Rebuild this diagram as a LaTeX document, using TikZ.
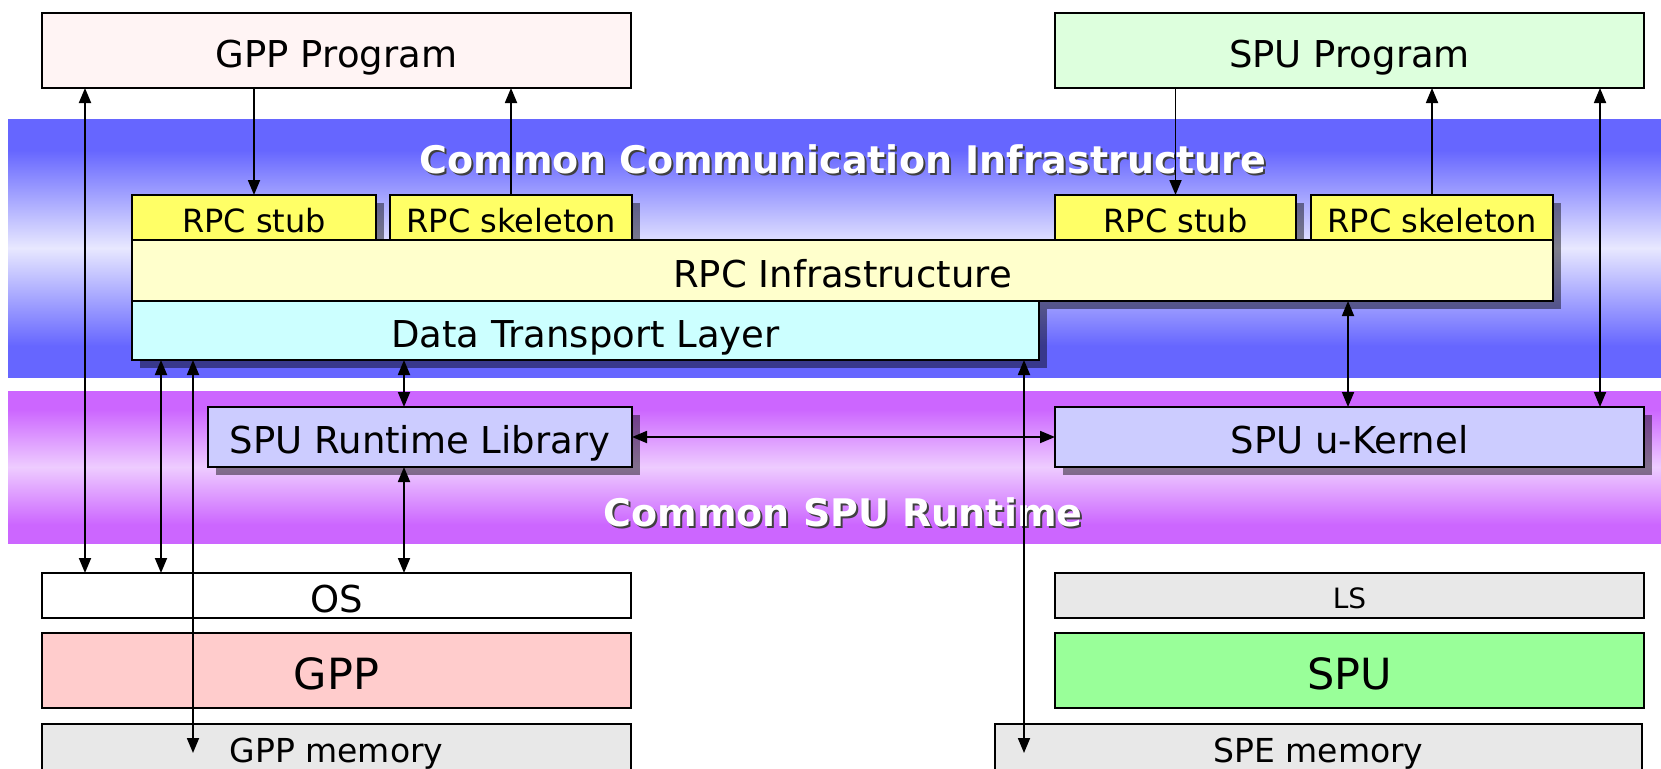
\documentclass[tikz,border=0pt]{standalone}
\usepackage{fontspec}
\setmainfont{DejaVu Sans}
\usetikzlibrary{arrows.meta,shadows}

\definecolor{bandblue}{HTML}{6666FF}
\definecolor{bandbluelight}{HTML}{E8E8FF}
\definecolor{bandpurple}{HTML}{CC66FF}
\definecolor{bandpurplelight}{HTML}{EECCFF}
\definecolor{gppprogfill}{HTML}{FFF4F4}
\definecolor{spuprogfill}{HTML}{DDFFDD}
\definecolor{stubfill}{HTML}{FFFF66}
\definecolor{infrafill}{HTML}{FFFFCC}
\definecolor{dtlfill}{HTML}{CCFFFF}
\definecolor{runtimefill}{HTML}{CCCCFF}
\definecolor{gppfill}{HTML}{FFCCCC}
\definecolor{spufill}{HTML}{99FF99}
\definecolor{memfill}{HTML}{E8E8E8}

% vertical band shadings: dark at both edges, light in the middle
\pgfdeclareverticalshading{blueband}{100bp}{color(0bp)=(bandblue); color(25bp)=(bandblue);
  color(31bp)=(bandblue); color(50bp)=(bandbluelight); color(69bp)=(bandblue);
  color(75bp)=(bandblue); color(100bp)=(bandblue)}
\pgfdeclareverticalshading{purpleband}{100bp}{color(0bp)=(bandpurple); color(25bp)=(bandpurple);
  color(31bp)=(bandpurple); color(50bp)=(bandpurplelight); color(69bp)=(bandpurple);
  color(75bp)=(bandpurple); color(100bp)=(bandpurple)}

\tikzset{
  box/.style={draw=black, line width=2pt, inner sep=0pt, outer sep=0pt, anchor=north west,
    text height=33pt, text depth=0pt, font=\fontsize{37}{44}\selectfont},
  shbox/.style={box, drop shadow={shadow xshift=8pt, shadow yshift=-8pt, fill=black, opacity=0.45}},
  smalltext/.style={font=\fontsize{32}{38}\selectfont, text height=29.4pt},
  bigtext/.style={font=\fontsize{43}{50}\selectfont, text height=37.4pt},
  memtext/.style={font=\fontsize{33}{40}\selectfont, text height=30pt},
  lstext/.style={font=\fontsize{28}{34}\selectfont, text height=25pt},
  tip/.tip={Triangle[length=15pt,width=12pt]},
  both/.style={line width=1.8pt, tip-tip},
  onearr/.style={line width=1.8pt, -tip},
  bandtitle/.style={font=\fontsize{38}{44}\selectfont\bfseries, inner sep=0pt},
}

\begin{document}
\begin{tikzpicture}[x=1pt,y=-1pt]
\useasboundingbox[fill=white] (0,0) rectangle (1661,768);
\begin{scope}
\clip (0,0) rectangle (1661,768);

% background bands
\shade[shading=blueband] (8,119) rectangle (1661,377);
\shade[shading=purpleband] (8,391) rectangle (1661,543);

% band titles with their shadows
\node[bandtitle, text=black!75] (ccishade) at (845,161) {Common Communication Infrastructure};
\node[bandtitle, text=white] (cci) at (843,159) {Common Communication Infrastructure};
\node[bandtitle, text=black!75] (csrshade) at (845,514) {Common SPU Runtime};
\node[bandtitle, text=white] (csr) at (843,512) {Common SPU Runtime};

% programs
\node[box, fill=gppprogfill, minimum width=589pt, minimum height=75pt] (gppprog) at (42,13) {GPP Program};
\node[box, fill=spuprogfill, minimum width=589pt, minimum height=75pt] (spuprog) at (1055,13) {SPU Program};

% RPC layer
\node[shbox, smalltext, fill=stubfill, minimum width=244pt, minimum height=45pt] (stubL) at (132,195) {RPC stub};
\node[shbox, smalltext, fill=stubfill, minimum width=242pt, minimum height=45pt] (skelL) at (390,195) {RPC skeleton};
\node[shbox, smalltext, fill=stubfill, minimum width=241pt, minimum height=45pt] (stubR) at (1055,195) {RPC stub};
\node[shbox, smalltext, fill=stubfill, minimum width=242pt, minimum height=45pt] (skelR) at (1311,195) {RPC skeleton};
\node[shbox, fill=infrafill, minimum width=1421pt, minimum height=61pt] (rpcinfra) at (132,240) {RPC Infrastructure};
\node[shbox, fill=dtlfill, minimum width=907pt, minimum height=59pt] (dtl) at (132,301) {Data Transport Layer};

% runtime layer
\node[shbox, fill=runtimefill, minimum width=424pt, minimum height=60pt] (rtl) at (208,407) {SPU Runtime Library};
\node[shbox, fill=runtimefill, minimum width=589pt, minimum height=60pt] (ukern) at (1055,407) {SPU u-Kernel};

% hardware
\node[box, fill=white, minimum width=589pt, minimum height=45pt] (os) at (42,573) {OS};
\node[box, bigtext, fill=gppfill, minimum width=589pt, minimum height=75pt] (gpp) at (42,633) {GPP};
\node[box, memtext, fill=memfill, minimum width=589pt, minimum height=46pt] (gppmem) at (42,724) {GPP memory};
\node[box, lstext, fill=memfill, minimum width=589pt, minimum height=45pt] (ls) at (1055,573) {LS};
\node[box, bigtext, fill=spufill, minimum width=589pt, minimum height=75pt] (spu) at (1055,633) {SPU};
\node[box, memtext, fill=memfill, minimum width=647pt, minimum height=46pt] (spemem) at (995,724) {SPE memory};

% connectors
\coordinate (gppmemtip) at ([xshift=151pt,yshift=-29pt]gppmem.north west);
\coordinate (spememtip) at ([xshift=29pt,yshift=-29pt]spemem.north west);

\draw[both] ([xshift=43pt]gppprog.south west) -- ([xshift=43pt]os.north west);
\draw[onearr] (stubL.north |- gppprog.south) -- (stubL.north);
\draw[onearr] (skelL.north) -- (skelL.north |- gppprog.south);
\draw[onearr] (stubR.north |- spuprog.south) -- (stubR.north);
\draw[onearr] (skelR.north) -- (skelR.north |- spuprog.south);
\draw[both] ([xshift=29pt]dtl.south west) -- ([xshift=119pt]os.north west);
\draw[both] ([xshift=61pt]dtl.south west) -- (gppmemtip);
\draw[both] ([xshift=272pt]dtl.south west) -- ([xshift=196pt]rtl.north west);
\draw[both] ([xshift=196pt]rtl.south west) -- ([xshift=362pt]os.north west);
\draw[both] (rtl.east) -- (ukern.west);
\draw[both] ([xshift=892pt]dtl.south west) -- (spememtip);
\draw[both] ([xshift=1216pt]rpcinfra.south west) -- ([xshift=293pt]ukern.north west);
\draw[both] ([xshift=545pt]spuprog.south west) -- ([xshift=545pt]ukern.north west);
\end{scope}
\end{tikzpicture}
\end{document}
